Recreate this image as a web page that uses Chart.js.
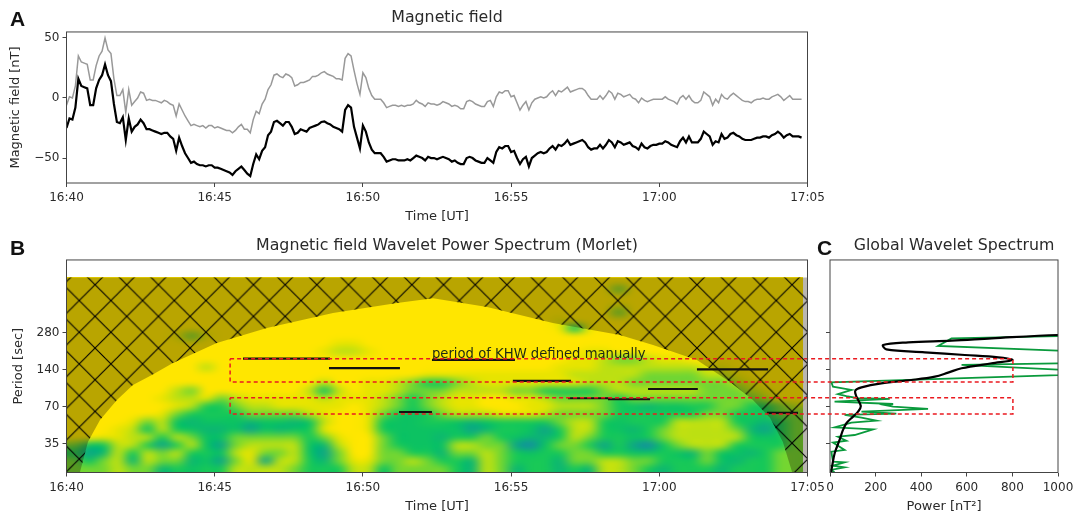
<!DOCTYPE html>
<html>
<head>
<meta charset="utf-8">
<title>Magnetic field wavelet</title>
<script src="https://cdn.jsdelivr.net/npm/chart.js@4/dist/chart.umd.js"></script>
<style>
html, body { margin: 0; padding: 0; background: #fff; }
body { width: 1079px; height: 520px; position: relative; overflow: hidden; }
canvas { position: absolute; left: 0; filter: blur(0.4px); }
.letter { position: absolute; font: bold 21px "Liberation Sans", sans-serif; color: #111; line-height: 21px; }
</style>
</head>
<body>
<canvas id="fieldChart" width="1079" height="235" style="top:0"></canvas>
<canvas id="globalChart" width="1079" height="285" style="top:235px"></canvas>
<canvas id="waveChart" width="1079" height="285" style="top:235px"></canvas>
<div class="letter" style="left:10px;top:8px">A</div>
<div class="letter" style="left:10px;top:237px">B</div>
<div class="letter" style="left:817px;top:237px">C</div>
<script>
// axis ticks
const timeTicks = [0, 5, 10, 15, 20, 25];
const timeLabels = ["16:40", "16:45", "16:50", "16:55", "17:00", "17:05"];
const fieldTicks = [-50, 0, 50];
const periodTicks = [35, 70, 140, 280];
const powerTicks = [0, 200, 400, 600, 800, 1000];

// panel A, one sample every 0.1 min from 16:40
const fieldStep = 0.1;
const fieldBlack = [-25, -17, -18, -8, 16, 10, 9, 8, -6, -6, 8, 15, 19, 28, 19, 14, -5, -20, -21, -16,
    -35, -17, -28, -24, -22, -18, -21, -26, -26, -27, -28, -29, -30, -29, -29, -32, -34, -44, -33, -40,
    -46, -50, -54, -53, -55, -56, -56, -57, -56, -56, -58, -58, -59, -60, -61, -62, -64, -61, -59, -57,
    -60, -63, -65, -55, -47, -51, -44, -41, -31, -28, -20, -19, -21, -23, -20, -20, -24, -30, -29, -26,
    -27, -28, -25, -24, -23, -22, -20, -19.5, -21, -22, -24, -25, -26, -28, -10, -6, -8, -24, -33, -42,
    -23, -28, -37, -43, -46, -46, -46, -49, -53, -52, -51, -51, -52, -52, -52, -51, -52, -50, -48, -49,
    -50, -52, -49, -50, -50, -51, -50, -49, -50, -51, -53, -52, -54, -55, -55, -50, -49, -50, -52, -53,
    -54, -54, -50, -52, -54, -45, -41, -42, -40, -40, -45, -44, -50, -55, -51, -49, -57, -50, -48, -46,
    -45, -46, -45, -42, -40, -43, -39, -40, -38, -35, -39, -38, -37, -36, -35, -37, -41, -43, -42, -42,
    -39, -42, -39, -35, -37, -41, -36, -37, -39, -38, -37, -40, -41, -43, -38, -41, -42, -40, -39, -39,
    -38, -38, -36, -37, -39, -40, -41, -36, -33, -37, -32, -37, -37, -37, -34, -28, -30, -32, -39, -36,
    -37, -30, -34, -33, -30, -29, -31, -32, -34, -35, -35, -35, -34, -33, -33, -32, -32, -33, -31, -30,
    -28, -30, -33, -31, -30, -32, -32, -32, -33];
const fieldGray = [-6, 1, 0, 10, 35, 30, 29, 28, 15, 15, 27, 35, 39, 50, 40, 37, 16, 2, 2, 7,
    -12, 7, -6, -3, 0, 5, 4, -2, -1, -2, -2, -3, -4, -2, -3, -5, -6, -15, -5, -10,
    -15, -19, -23, -22, -23, -24, -23, -25, -23, -23, -25, -24, -25, -26, -27, -27, -29, -27, -24, -22,
    -26, -26, -29, -18, -11, -13, -5, -1, 7, 11, 19, 20, 18, 17, 20, 19, 17, 10, 11, 13,
    13, 14, 15, 18, 18, 19, 21, 22, 20, 19, 18, 16, 16, 15, 33, 37, 35, 23, 12, 3,
    21, 17, 8, 2, -1, -1, -1, -4, -8, -7, -6, -6, -7, -6, -7, -6, -6, -5, -2, -4,
    -5, -7, -4, -5, -5, -6, -5, -3, -4, -5, -7, -6, -7, -9, -9, -3, -2, -3, -5, -6,
    -7, -7, -3, -2, -7, 1, 5, 4, 6, 6, 1, 2, -4, -10, -6, -3, -10, -4, -1, 0,
    1, 0, 1, 4, 6, 2, 6, 5, 7, 9, 5, 6, 7, 8, 8, 6, 2, -1, -1, -1,
    2, -1, 2, 6, 4, -1, 4, 3, 1, 2, 3, 0, -1, -4, 0, -2, -3, -2, -1, -1,
    -1, -1, 1, -1, -2, -3, -5, 0, 2, -1, 2, -2, -4, -4, -2, 5, 3, 1, -6, -1,
    -4, 3, 0, -1, 2, 4, 2, 0, -2, -3, -3, -4, -2, -1, -1, 0, -1, -1, 1, 2,
    3, 1, -2, 0, 2, -1, -1, -1, -1];

// panel B, wavelet power in levels 0-9: rows from the longest period down, columns every 0.5 min
const heatRows = [
    "0000000000 0000000000 0000000000 0000000000 0000000000",
    "0000000000 0000000000 0000000000 0000000300 0000000000",
    "0000000000 0000000000 0000000000 0000000000 0000000000",
    "0000000000 0000000000 0000000000 0000000100 0000000000",
    "0000000000 0000000000 0000000000 0000000300 0000000000",
    "0000000000 0000000000 0000000000 0001000000 0000000000",
    "0000000000 0000000000 0000000000 0001510000 0000000000",
    "0000000131 0000000000 0000000000 0000000000 0000000000",
    "0000000000 0000000011 0000000000 0000000000 0000000000",
    "0000000000 0000000122 1000000000 0000011000 0000000000",
    "0000000000 0000000000 0000000000 0000112332 1100000000",
    "0000000002 0000000000 0000000000 0001112222 2221100000",
    "0000000000 0000000000 0000111111 1111222223 3332210000",
    "0000000000 0000000200 1123443211 1111122233 3333321000",
    "0000000230 0000002520 1123332222 3344443222 2223332100",
    "0000001221 3211111211 1234321100 1123333433 3333333200",
    "0000000124 4322111110 1234321100 0112223456 5544334432",
    "0000001344 4433332100 1345432221 1123333444 4443344433",
    "0000132565 5565565200 1455445654 4443224544 4222245643",
    "0001252456 6575654100 1455555764 4574224564 3222236743",
    "0011224235 5333334310 0355564434 5664234454 3222224543",
    "3552247425 7322225620 0345552233 7853347478 5322244443",
    "4762423244 5213325730 0334463323 4544334455 4563556433",
    "3532623365 7317224631 1332344623 4446332233 4443564433",
    "3332336454 4222234442 2533334623 6446462234 6444644433"
];
const heatColors = ["#ffe600", "#e6e400", "#bce012", "#72d632", "#18c858",
    "#0cc262", "#0cb672", "#0ea488", "#148ca4", "#1a80b0"];
const heatMinTime = 0;
const heatMaxTime = 24.85;
const heatTopPeriod = 792;
const heatBottomPeriod = 20.5;

// cone of influence edge
const coiTime = [0, 0.455, 0.725, 1.13, 1.7, 2.24, 2.88, 3.59, 5.07, 6.76, 8.99, 11.15, 12.37,
    14.19, 16.41, 18.67, 19.79, 21.27, 22.39, 23.16, 23.74, 24.17, 24.48, 25];
const coiPeriod = [20.5, 20.7, 36.5, 54.9, 79.8, 105.7, 127.5, 159.7, 232, 307, 407, 491, 538,
    456, 338, 270, 224, 169, 112, 79.8, 57, 36.3, 20.7, 20.5];

// black marks of the manually read periods
const khwStart = [5.955, 8.856, 11.22, 12.33, 15.06, 16.92, 18.27, 19.62, 21.27, 23.63];
const khwEnd = [8.89, 11.25, 12.33, 15.13, 17.02, 18.34, 19.69, 21.3, 23.67, 24.68];
const khwPeriod = [173, 145, 63.7, 169, 114, 82.4, 80.9, 98, 141.8, 62.6];

// red dashed boxes, right side lands on 800 of panel C
const boxLeft = 5.52;
const boxRight = 31.93;
const upperBox = [172.4, 112];
const lowerBox = [83, 61.4];
const noteText = "period of KHW defined manually";
const noteTime = 12.33;
const notePeriod = 164;

// panel C
const gwsPeriod = [272, 269.6, 253, 242.4, 235, 223.6, 206, 195, 185.4, 177.5, 168.9, 158.7, 144.6, 133.2,
    123.6, 116, 109, 101, 95, 85, 71.3, 64.1, 58.4, 51.6, 45.5, 37.7, 29.4, 22.9, 19.6];
const gwsPower = [1300, 1000, 709, 533, 343, 233, 247, 416, 591, 738, 800, 709, 577, 518,
    460, 357, 225, 138, 111, 116, 135, 123, 101, 72, 57, 42, 20.5, 9, 3];
const fftPeriod = [271, 253, 219.6, 191, 161.6, 153.8, 132.4, 111, 102.5, 96.3, 89.2, 85.9, 82.4, 81.4, 77.3, 74, 72.7,
    70.5, 67.5, 64.1, 61.8, 60.3, 57.3, 54.2, 52.2, 47.8, 46, 41.4, 40.1, 37.2, 35.9, 31.3, 30.3, 25.1, 24.8, 23.3, 22.6, 21.5, 20.7];
const fftPower = [1300, 533, 474, 1300, 1300, 577, 1300, 6, 13, 94, 35, 72, 123, 262, 20, 277, 240,
    277, 430, 138, 291, 64, 138, 203, 94, 20, 189, 108, 35, 72, 13, 64, 6, 13, 64, 13, 64, 3, 20];

const fontName = '"DejaVu Sans", sans-serif';
const inkColor = '#2a2a2a';
Chart.defaults.font.family = fontName;
Chart.defaults.font.size = 12;
Chart.defaults.color = inkColor;

// frame on all four sides, panel titles sit 10px right of the axes centre
const framePlugin = {
    id: 'frame',
    afterLayout(chart) {
        chart.titleBlock.left += 10;
        chart.titleBlock.right += 10;
    },
    afterDraw(chart) {
        const a = chart.chartArea;
        const ctx = chart.ctx;
        ctx.save();
        ctx.strokeStyle = '#444';
        ctx.lineWidth = 1;
        ctx.strokeRect(a.left, a.top, a.right - a.left, a.bottom - a.top);
        ctx.restore();
    }
};

// heatmap: one pixel per cell, stretched between the scale positions
const heatPlugin = {
    id: 'heat',
    beforeDatasetsDraw(chart) {
        const rows = heatRows.map(r => r.replace(/ /g, ''));
        const small = document.createElement('canvas');
        small.width = rows[0].length;
        small.height = rows.length;
        const sctx = small.getContext('2d');
        rows.forEach((row, y) => {
            for (let x = 0; x < row.length; x++) {
                sctx.fillStyle = heatColors[+row[x]];
                sctx.fillRect(x, y, 1, 1);
            }
        });
        const xs = chart.scales.x;
        const ys = chart.scales.y;
        const left = xs.getPixelForValue(heatMinTime);
        const right = xs.getPixelForValue(heatMaxTime);
        const top = ys.getPixelForValue(heatTopPeriod);
        const bottom = ys.getPixelForValue(heatBottomPeriod);
        const ctx = chart.ctx;
        ctx.save();
        ctx.imageSmoothingEnabled = true;
        ctx.imageSmoothingQuality = 'high';
        ctx.drawImage(small, left, top, right - left, bottom - top);
        // second pass softens the cell steps, the first one keeps the edges filled
        ctx.beginPath();
        ctx.rect(left, top, right - left, bottom - top);
        ctx.clip();
        ctx.filter = 'blur(2px)';
        ctx.drawImage(small, left, top, right - left, bottom - top);
        ctx.restore();
    }
};

const notePlugin = {
    id: 'note',
    afterDatasetsDraw(chart) {
        const ctx = chart.ctx;
        ctx.save();
        ctx.font = '13.2px ' + fontName;
        ctx.fillStyle = '#1c2a14';
        ctx.textBaseline = 'bottom';
        ctx.fillText(noteText, chart.scales.x.getPixelForValue(noteTime), chart.scales.y.getPixelForValue(notePeriod));
        ctx.restore();
    }
};

function hatchPattern() {
    const tile = document.createElement('canvas');
    tile.width = 32;
    tile.height = 32;
    const t = tile.getContext('2d');
    t.strokeStyle = '#000';
    t.lineWidth = 1.1;
    t.beginPath();
    t.moveTo(-1, -1);
    t.lineTo(33, 33);
    t.moveTo(33, -1);
    t.lineTo(-1, 33);
    t.stroke();
    const p = t.createPattern(tile, 'repeat');
    p.setTransform(new DOMMatrix().translate(0, 18).scale(0.99));
    return p;
}

function timeAxis(axisHeight, titleBottom) {
    return {
        type: 'linear',
        min: 0,
        max: 25,
        afterBuildTicks: s => { s.ticks = timeTicks.map(v => ({ value: v })); },
        afterFit: s => { s.height = axisHeight; },
        ticks: { autoSkip: false, maxRotation: 0, padding: 4, callback: v => timeLabels[timeTicks.indexOf(v)] },
        grid: { drawOnChartArea: false, tickLength: 4, color: '#444' },
        border: { display: false },
        title: { display: true, text: 'Time [UT]', font: { size: 13 }, padding: { top: 0, bottom: titleBottom } }
    };
}

function periodAxis(width, showLabels) {
    return {
        type: 'logarithmic',
        min: heatBottomPeriod,
        max: 1100,
        afterBuildTicks: s => { s.ticks = periodTicks.map(v => ({ value: v })); },
        afterFit: s => { s.width = width; },
        ticks: { display: showLabels, autoSkip: false, padding: 3, callback: v => String(v) },
        grid: { drawOnChartArea: false, tickLength: 4, color: '#444' },
        border: { display: false },
        title: { display: showLabels, text: 'Period [sec]', font: { size: 13 }, padding: { top: 11, bottom: 0 } }
    };
}

function panelTitle(text, top, bottom) {
    return { display: true, text: text, fullSize: false, font: { size: 15.8, weight: 'normal' }, padding: { top: top, bottom: bottom } };
}

new Chart(document.getElementById('fieldChart'), {
    type: 'line',
    data: {
        datasets: [
            { data: fieldBlack.map((v, i) => ({ x: i * fieldStep, y: v })), borderColor: '#000', borderWidth: 2.2, pointRadius: 0 },
            { data: fieldGray.map((v, i) => ({ x: i * fieldStep, y: v })), borderColor: '#999', borderWidth: 1.5, pointRadius: 0 }
        ]
    },
    options: {
        responsive: false,
        animation: false,
        devicePixelRatio: 1,
        layout: { padding: { left: 0, right: 271.5, top: 0, bottom: 0 } },
        plugins: { legend: { display: false }, tooltip: { enabled: false }, title: panelTitle('Magnetic field', 8.2, 4.8) },
        scales: {
            x: timeAxis(52, 10.2),
            y: {
                min: -70.8,
                max: 55,
                afterBuildTicks: s => { s.ticks = fieldTicks.map(v => ({ value: v })); },
                afterFit: s => { s.width = 66.5; },
                ticks: { padding: 3, callback: v => String(v).replace('-', '\u2212') },
                grid: { drawOnChartArea: false, tickLength: 4, color: '#444' },
                border: { display: false },
                title: { display: true, text: 'Magnetic field [nT]', font: { size: 13 }, padding: { top: 8, bottom: 0 } }
            }
        }
    },
    plugins: [framePlugin]
});

const boxLine = periods => ({
    data: [
        { x: boxLeft, y: periods[0] }, { x: boxRight, y: periods[0] },
        { x: boxRight, y: periods[1] }, { x: boxLeft, y: periods[1] }, { x: boxLeft, y: periods[0] }
    ],
    borderColor: '#ea1a20',
    borderWidth: 1.5,
    borderDash: [4, 3],
    pointRadius: 0,
    clip: false
});

const coiPoints = coiTime.map((t, i) => ({ x: t, y: coiPeriod[i] }));

new Chart(document.getElementById('waveChart'), {
    type: 'line',
    data: {
        datasets: [
            boxLine(upperBox),
            boxLine(lowerBox),
            ...khwStart.map((s, i) => ({
                data: [{ x: s, y: khwPeriod[i] }, { x: khwEnd[i], y: khwPeriod[i] }],
                borderColor: '#111',
                borderWidth: 2.2,
                pointRadius: 0
            })),
            { data: coiPoints, borderWidth: 0, pointRadius: 0, backgroundColor: hatchPattern(), fill: { value: heatTopPeriod } },
            { data: coiPoints, borderWidth: 0, pointRadius: 0, backgroundColor: 'rgba(30,20,0,0.31)', fill: { value: heatTopPeriod } }
        ]
    },
    options: {
        responsive: false,
        animation: false,
        devicePixelRatio: 1,
        layout: { padding: { left: 0, right: 271.5, top: 0, bottom: 0 } },
        plugins: {
            legend: { display: false },
            tooltip: { enabled: false },
            title: panelTitle('Magnetic field Wavelet Power Spectrum (Morlet)', 1.5, 4.5)
        },
        scales: {
            x: timeAxis(47.5, 5.2),
            y: periodAxis(66.5, true)
        }
    },
    plugins: [heatPlugin, framePlugin, notePlugin]
});

new Chart(document.getElementById('globalChart'), {
    type: 'line',
    data: {
        datasets: [
            { data: gwsPeriod.map((p, i) => ({ x: gwsPower[i], y: p })), borderColor: '#000', borderWidth: 2.2, pointRadius: 0, tension: 0.35 },
            { data: fftPeriod.map((p, i) => ({ x: fftPower[i], y: p })), borderColor: '#0a9a3c', borderWidth: 1.8, pointRadius: 0 }
        ]
    },
    options: {
        responsive: false,
        animation: false,
        devicePixelRatio: 1,
        layout: { padding: { left: 0, right: 21, top: 0, bottom: 0 } },
        plugins: {
            legend: { display: false },
            tooltip: { enabled: false },
            title: panelTitle('Global Wavelet Spectrum', 1.5, 4.5)
        },
        scales: {
            x: {
                type: 'linear',
                min: 0,
                max: 1000,
                afterBuildTicks: s => { s.ticks = powerTicks.map(v => ({ value: v })); },
                afterFit: s => { s.height = 47.5; },
                ticks: { autoSkip: false, maxRotation: 0, padding: 4, callback: v => String(v) },
                grid: { drawOnChartArea: false, tickLength: 4, color: '#444' },
                border: { display: false },
                title: { display: true, text: 'Power [nT\u00b2]', font: { size: 13 }, padding: { top: 0, bottom: 5.2 } }
            },
            y: periodAxis(830, false)
        }
    },
    plugins: [framePlugin]
});
</script>
</body>
</html>
